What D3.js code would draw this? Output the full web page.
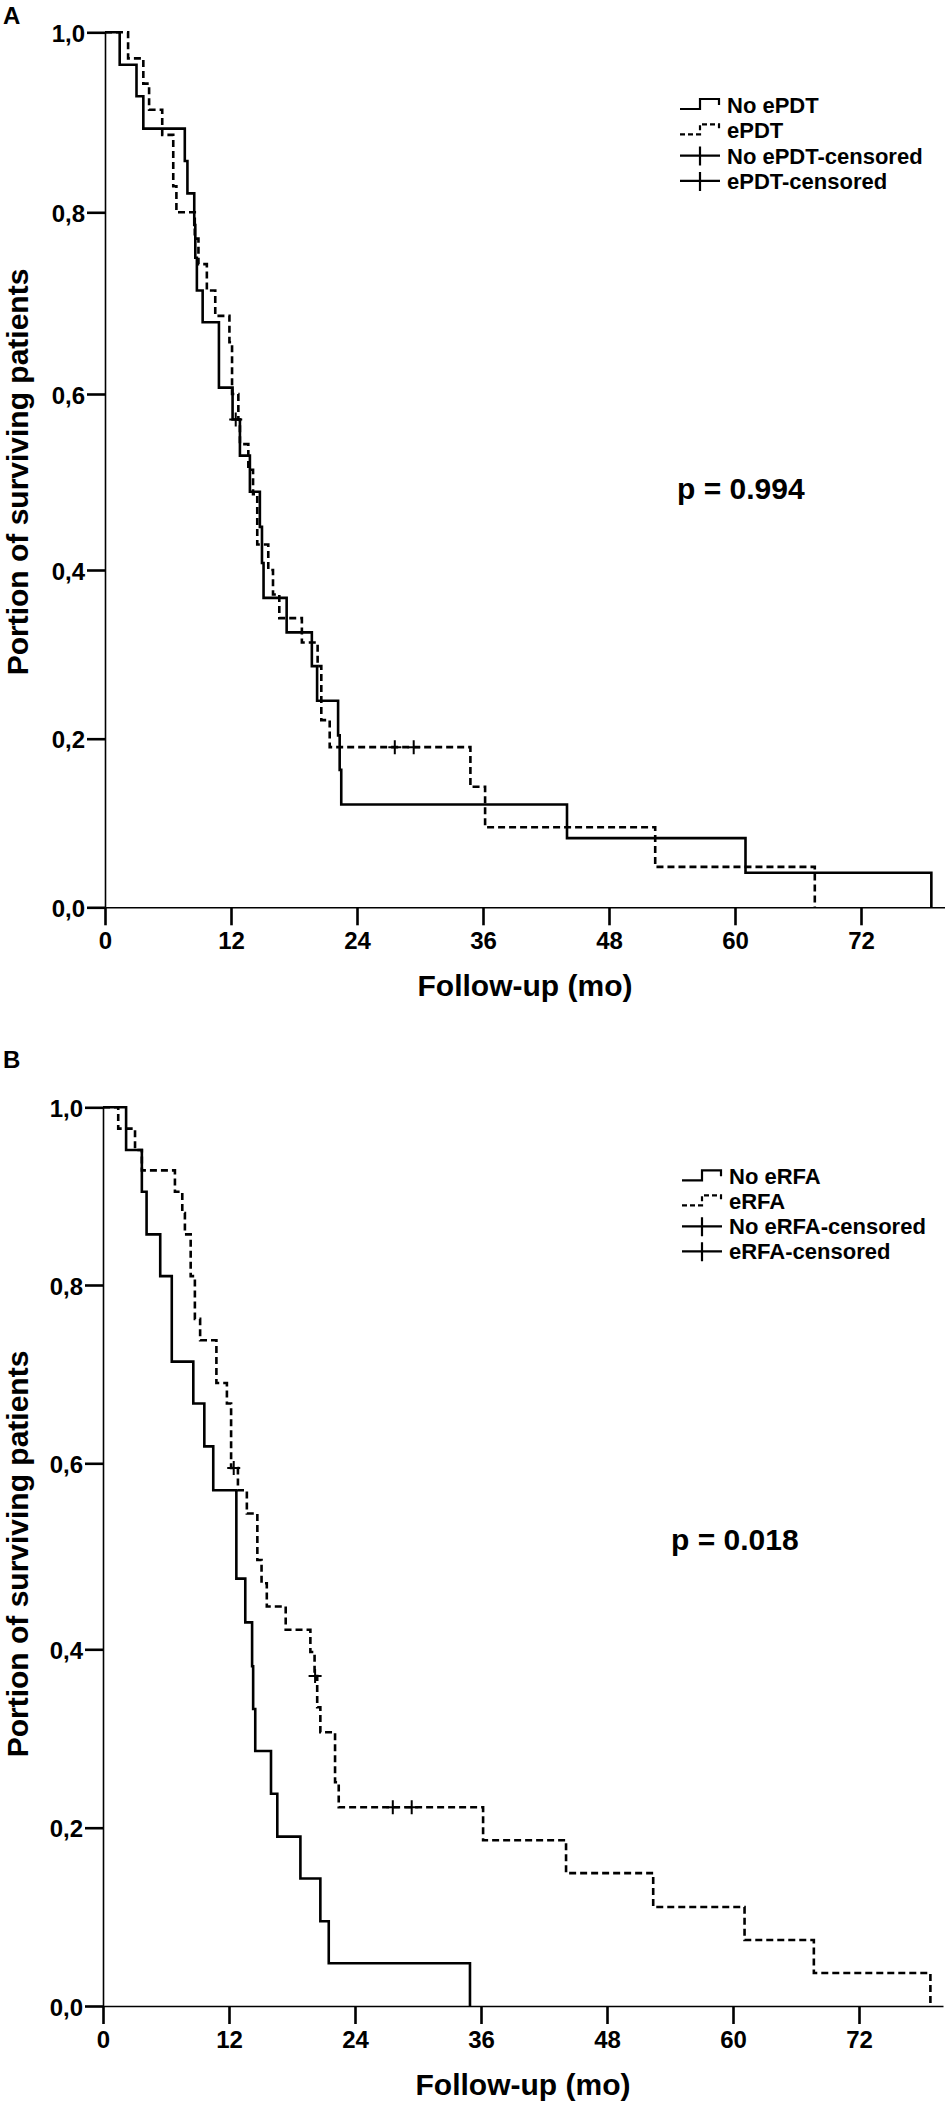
<!DOCTYPE html>
<html lang="en">
    <head>
        <meta charset="utf-8">
        <title>Survival curves: ePDT and eRFA</title>
        <script type="text/javascript" src="https://cdn.jsdelivr.net/npm/d3@7/dist/d3.min.js"></script>
        <style type="text/css">

            body {
                margin: 0;
                background: #fff;
            }

            svg text {
                font-family: "Liberation Sans", Arial, sans-serif;
                font-weight: bold;
                fill: #000;
            }

            .axis path {
                fill: none;
                stroke: #000;
                stroke-width: 1.6px;
            }

            .axis line {
                stroke: #000;
                stroke-width: 2.6px;
            }

            .axis text {
                font-size: 24px;
            }

            .curve {
                fill: none;
                stroke: #000;
                stroke-width: 2.6px;
            }

            .censor {
                fill: none;
                stroke: #000;
                stroke-width: 2px;
            }

        </style>
    </head>
    <body>
        <script type="text/javascript">

            // Axis ticks
            var monthTicks = [0, 12, 24, 36, 48, 60, 72];
            var survTicks = [0, 0.2, 0.4, 0.6, 0.8, 1.0];
            var survTickLabels = ["0,0", "0,2", "0,4", "0,6", "0,8", "1,0"];

            // Panel A: time of each drop (months) and survival after it
            var noEpdtTime = [1.4, 3.0, 3.65, 7.6, 7.85, 8.5, 8.6, 8.75, 9.3, 10.85, 12.15, 12.85, 13.8,
                              14.75, 14.95, 15.1, 17.3, 19.7, 20.2, 22.2, 22.35, 22.5, 44.0, 61.0, 78.7];
            var noEpdtSurv = [0.964, 0.929, 0.893, 0.857, 0.821, 0.786, 0.750, 0.714, 0.679, 0.607, 0.571, 0.530, 0.489,
                              0.449, 0.408, 0.367, 0.326, 0.286, 0.245, 0.204, 0.163, 0.122, 0.082, 0.041, 0];
            var noEpdtCensTime = [12.45];
            var noEpdtCensSurv = [0.571];

            var epdtTime = [2.2, 3.65, 4.2, 5.45, 6.5, 6.8, 8.55, 8.9, 9.7, 10.5, 11.85, 12.1, 12.7, 12.85,
                            13.65, 14.1, 14.5, 15.55, 16.0, 16.6, 18.75, 20.25, 20.6, 21.4, 34.8, 36.2, 52.4, 67.6];
            var epdtSurv = [0.971, 0.943, 0.914, 0.886, 0.829, 0.800, 0.771, 0.743, 0.714, 0.686, 0.657, 0.600, 0.571, 0.543,
                            0.514, 0.486, 0.429, 0.400, 0.371, 0.343, 0.314, 0.286, 0.222, 0.190, 0.143, 0.095, 0.048, 0];
            var epdtCensTime = [27.6, 29.4];
            var epdtCensSurv = [0.190, 0.190];

            // Panel B
            var noErfaTime = [2.2, 3.7, 4.15, 5.45, 6.55, 8.6, 9.65, 10.5, 12.7, 13.55,
                              14.2, 14.3, 14.5, 16.0, 16.6, 18.8, 20.7, 21.5, 34.95];
            var noErfaSurv = [0.952, 0.905, 0.857, 0.810, 0.714, 0.667, 0.619, 0.571, 0.476, 0.429,
                              0.381, 0.333, 0.286, 0.238, 0.190, 0.143, 0.095, 0.048, 0];
            var noErfaCensTime = [];
            var noErfaCensSurv = [];

            var erfaTime = [1.45, 3.05, 3.7, 6.85, 7.55, 7.8, 8.35, 8.75, 9.25, 10.8, 11.8, 12.2, 12.85, 13.7, 14.7,
                            15.1, 15.6, 17.4, 19.75, 20.15, 20.4, 20.7, 22.1, 22.45, 36.2, 44.1, 52.4, 61.1, 67.7, 78.8];
            var erfaSurv = [0.976, 0.952, 0.929, 0.905, 0.881, 0.857, 0.810, 0.762, 0.738, 0.690, 0.667, 0.595, 0.571, 0.546, 0.496,
                            0.471, 0.446, 0.421, 0.397, 0.370, 0.335, 0.307, 0.251, 0.223, 0.186, 0.149, 0.111, 0.074, 0.037, 0];
            var erfaCensTime = [12.45, 20.2, 27.6, 29.4];
            var erfaCensSurv = [0.595, 0.370, 0.223, 0.223];

            // Width and height
            var w = 945;
            var h = 2110;

            var svg = d3.select("body")
                        .append("svg")
                        .attr("width", w)
                        .attr("height", h);

            // Layout of the two panels
            var panels = [
                {
                    label: "A", labelY: 24,
                    xRange: [105, 945],
                    yRange: [907.3, 738.7, 570, 394, 212.3, 32.3],
                    yTitleY: 472,
                    legendX: 680, textX: 727, legendY: 113, legendStep: 25.3,
                    names: ["No ePDT", "ePDT", "No ePDT-censored", "ePDT-censored"],
                    pText: "p = 0.994", pX: 677, pY: 499,
                    solid: [noEpdtTime, noEpdtSurv, noEpdtCensTime, noEpdtCensSurv],
                    dashed: [epdtTime, epdtSurv, epdtCensTime, epdtCensSurv]
                },
                {
                    label: "B", labelY: 1068,
                    xRange: [103, 943],
                    yRange: [2006, 1827.7, 1649.3, 1463.3, 1285, 1107.3],
                    yTitleY: 1554,
                    legendX: 682, textX: 729, legendY: 1184.3, legendStep: 25,
                    names: ["No eRFA", "eRFA", "No eRFA-censored", "eRFA-censored"],
                    pText: "p = 0.018", pX: 671, pY: 1550,
                    solid: [noErfaTime, noErfaSurv, noErfaCensTime, noErfaCensSurv],
                    dashed: [erfaTime, erfaSurv, erfaCensTime, erfaCensSurv]
                }
            ];

            panels.forEach(function(p) {

                var xScale = d3.scaleLinear()
                               .domain([0, 80])
                               .range(p.xRange);

                var yScale = d3.scaleLinear()
                               .domain(survTicks)
                               .range(p.yRange);

                var x0 = p.xRange[0];
                var yBottom = p.yRange[0];

                // Axes
                var xAxis = d3.axisBottom(xScale)
                              .tickValues(monthTicks)
                              .tickSize(18)
                              .tickSizeOuter(0)
                              .tickPadding(7);

                var yAxis = d3.axisLeft(yScale)
                              .tickValues(survTicks)
                              .tickFormat(function(d, i) { return survTickLabels[i]; })
                              .tickSize(18)
                              .tickSizeOuter(0)
                              .tickPadding(2);

                svg.append("g")
                   .attr("class", "x axis")
                   .attr("transform", "translate(0," + yBottom + ")")
                   .call(xAxis);

                var gy = svg.append("g")
                   .attr("class", "y axis")
                   .attr("transform", "translate(" + x0 + ",0)")
                   .call(yAxis);
                gy.selectAll("text").attr("dy", "0.38em");

                svg.selectAll(".axis text")
                   .attr("fill", "#000")
                   .attr("font-family", null)
                   .attr("font-size", null);

                // Axis titles
                svg.append("text")
                   .attr("x", (p.xRange[0] + p.xRange[1]) / 2)
                   .attr("y", yBottom + 89)
                   .attr("text-anchor", "middle")
                   .style("font-size", "30px")
                   .text("Follow-up (mo)");

                svg.append("text")
                   .attr("transform", "translate(28," + p.yTitleY + ") rotate(-90)")
                   .attr("text-anchor", "middle")
                   .style("font-size", "30px")
                   .text("Portion of surviving patients");

                // Panel letter
                svg.append("text")
                   .attr("x", 3)
                   .attr("y", p.labelY)
                   .style("font-size", "24px")
                   .text(p.label);

                // Step curves
                var line = d3.line()
                             .x(function(d) { return xScale(d[0]); })
                             .y(function(d) { return yScale(d[1]); })
                             .curve(d3.curveStepAfter);

                function drawCurve(series, dashed) {
                    var pts = [[0, 1]].concat(series[0].map(function(t, i) {
                        return [t, series[1][i]];
                    }));
                    svg.append("path")
                       .datum(pts)
                       .attr("class", "curve")
                       .attr("stroke-dasharray", dashed ? "7,4" : null)
                       .attr("d", line);

                    // Censored marks
                    svg.append("g")
                       .selectAll("path")
                       .data(series[2].map(function(t, i) { return [t, series[3][i]]; }))
                       .enter()
                       .append("path")
                       .attr("class", "censor")
                       .attr("d", function(d) {
                           var cx = xScale(d[0]), cy = yScale(d[1]);
                           return "M" + (cx - 6.5) + "," + cy + "H" + (cx + 6.5) +
                                  "M" + cx + "," + (cy - 7) + "V" + (cy + 7);
                       });
                }

                drawCurve(p.solid, false);
                drawCurve(p.dashed, true);

                // Legend
                var lg = svg.append("g");
                p.names.forEach(function(name, i) {
                    var by = p.legendY + i * p.legendStep;
                    var lx = p.legendX;
                    var d;
                    if (i < 2) {
                        d = "M" + lx + "," + (by - 4) + "H" + (lx + 20) + "V" + (by - 14) +
                            "H" + (lx + 39) + "V" + (by - 8);
                    } else {
                        d = "M" + lx + "," + (by - 8) + "H" + (lx + 40) +
                            "M" + (lx + 20) + "," + (by - 17) + "V" + (by + 2);
                    }
                    lg.append("path")
                      .attr("d", d)
                      .attr("fill", "none")
                      .attr("stroke", "#000")
                      .attr("stroke-width", 2.2)
                      .attr("stroke-dasharray", i === 1 ? "5,3" : null);

                    lg.append("text")
                      .attr("x", p.textX)
                      .attr("y", by)
                      .style("font-size", "22px")
                      .text(name);
                });

                // p-value
                svg.append("text")
                   .attr("x", p.pX)
                   .attr("y", p.pY)
                   .style("font-size", "30px")
                   .text(p.pText);
            });

        </script>
    </body>
</html>
